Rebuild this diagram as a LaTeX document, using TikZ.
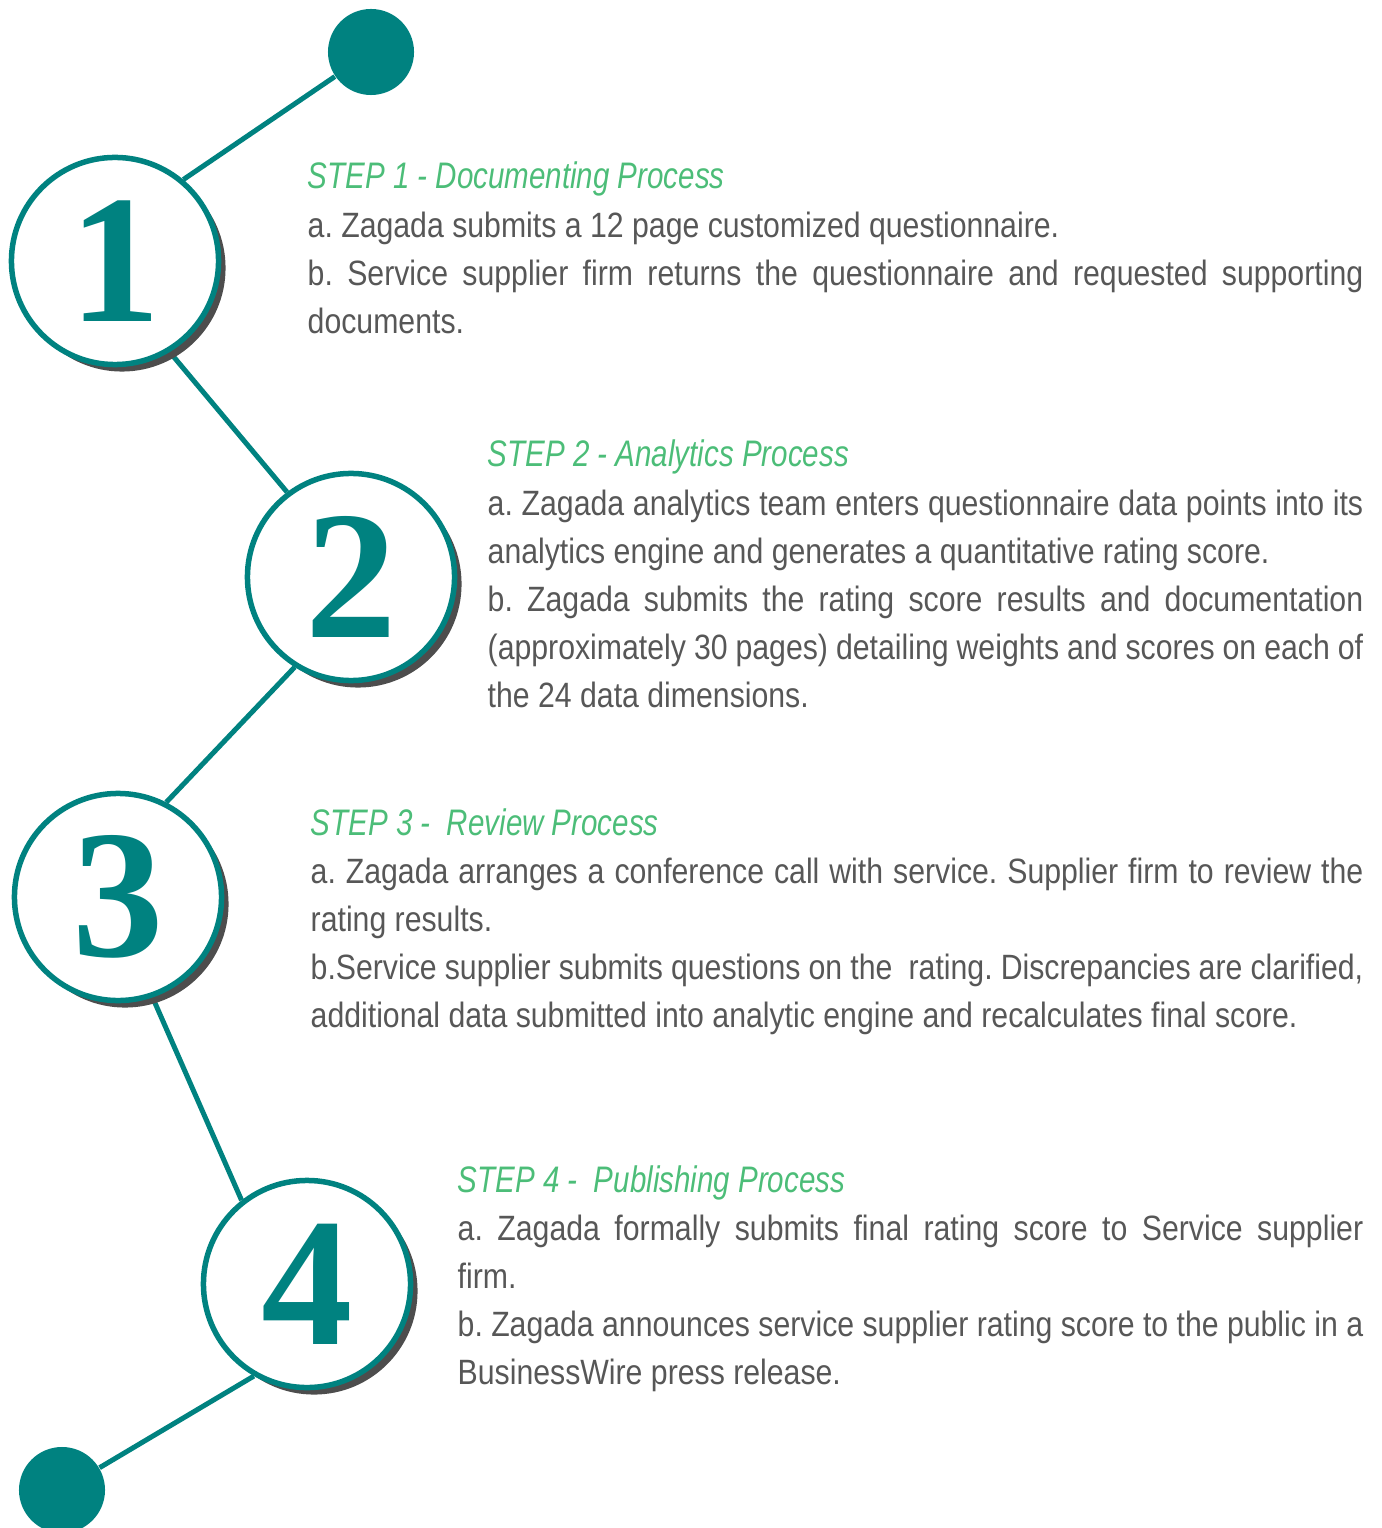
\documentclass[tikz,border=0pt]{standalone}
\usepackage{fontspec}
\setmainfont{Liberation Sans}[FakeStretch=0.86]
\newfontfamily\headfont{Liberation Sans}[FakeStretch=0.8]
\newfontfamily\numfont{Liberation Serif}
\usetikzlibrary{shadows,backgrounds}

\definecolor{ringteal}{RGB}{0,130,128}
\definecolor{headgreen}{RGB}{76,189,120}
\definecolor{bodygray}{RGB}{87,87,87}
\definecolor{shadowgray}{RGB}{77,77,77}

\tikzset{
    ring/.style={circle, draw=ringteal, line width=0.055cm, fill=white,
        minimum size=2.07cm, inner sep=0pt, text=ringteal,
        font=\numfont\bfseries\fontsize{52}{52}\selectfont,
        drop shadow={shadow xshift=0.07cm, shadow yshift=-0.07cm,
            fill=shadowgray, opacity=1}},
    dot/.style={circle, fill=ringteal, minimum size=0.86cm, inner sep=0pt},
    link/.style={draw=ringteal, line width=0.05cm},
    steptext/.style={anchor=base west, inner sep=0pt, align=justify,
        text=bodygray, font=\frenchspacing\fontsize{10}{13.66}\selectfont},
}
\newcommand{\stephead}[1]{{\headfont\itshape\color{headgreen}\fontsize{10.5}{13.66}\selectfont #1}\par}

\begin{document}
\begin{tikzpicture}[x=0.01cm, y=-0.01cm]
    \useasboundingbox (0,0) rectangle (1381,1528);

    % Draw the numbered rings and the two end dots
    \node[dot] (top) at (371,52) {};
    \node[ring] (c1) at (115,261) {1};
    \node[ring] (c2) at (351,577) {2};
    \node[ring] (c3) at (118,897) {3};
    \node[ring] (c4) at (307,1284) {4};
    \node[dot] (bottom) at (62,1490) {};

    % Draw the zigzag line behind them
    \begin{scope}[on background layer]
        \draw[link] (c1.50) -- (top);
        \draw[link] (c1.-59) -- (c2.127);
        \draw[link] (c2.-122) -- (c3.63);
        \draw[link] (c3.-71) -- (c4.128);
        \draw[link] (c4.-120) -- (bottom);
    \end{scope}

    % Step texts
    \node[steptext, text width=10.55cm] (t1) at (307,189) {%
        \stephead{STEP 1 - Documenting Process}
        a. Zagada submits a 12 page customized questionnaire.\par
        b. Service supplier firm returns the questionnaire and requested supporting\linebreak
        documents.};
    \node[steptext, text width=8.75cm] (t2) at (487,467) {%
        \stephead{STEP 2 - Analytics Process}
        a. Zagada analytics team enters questionnaire data points into its\linebreak
        analytics engine and generates a quantitative rating score.\par
        b. Zagada submits the rating score results and documentation\linebreak
        (approximately 30 pages) detailing weights and scores on each of\linebreak
        the 24 data dimensions.};
    \node[steptext, text width=10.52cm] (t3) at (310,835) {%
        \stephead{STEP 3 -~ Review Process}
        a. Zagada arranges a conference call with service. Supplier firm to review the\linebreak
        rating results.\par
        b.Service supplier submits questions on the~ rating. Discrepancies are clarified,\linebreak
        additional data submitted into analytic engine and recalculates final score.};
    \node[steptext, text width=9.05cm] (t4) at (457,1192) {%
        \stephead{STEP 4 -~ Publishing Process}
        a. Zagada formally submits final rating score to Service supplier\linebreak
        firm.\par
        b. Zagada announces service supplier rating score to the public in a\linebreak
        BusinessWire press release.};
\end{tikzpicture}
\end{document}
